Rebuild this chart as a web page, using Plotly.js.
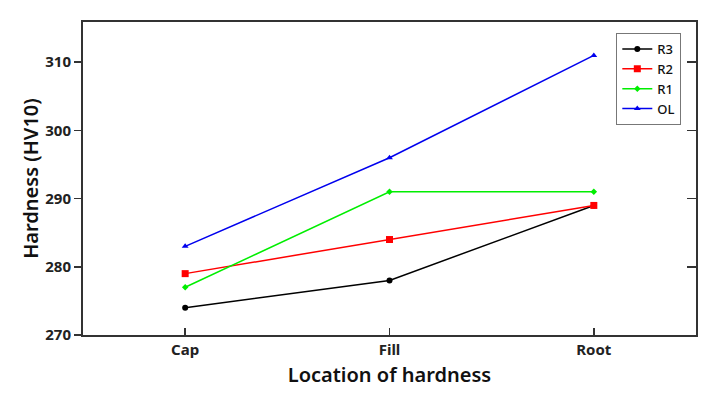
<!DOCTYPE html>
<html>
<head>
<meta charset="utf-8">
<script src="https://cdn.plot.ly/plotly-3.0.1.min.js"></script>
<style>html,body{margin:0;padding:0;background:#fff;}#chart{width:721px;height:399px;}</style>
</head>
<body>
<div id="chart"></div>
<script>
const categories = ["Cap", "Fill", "Root"];
const seriesNames = ["R3", "R2", "R1", "OL"];
const r3 = [274, 278, 289];
const r2 = [279, 284, 289];
const r1 = [277, 291, 291];
const ol = [283, 296, 311];
const yTicks = [270, 280, 290, 300, 310];

const xIdx = categories.map((c, i) => i);
const styles = [
  {color: "#000000", symbol: "circle", size: 6},
  {color: "#ff0000", symbol: "square", size: 7},
  {color: "#00ee00", symbol: "diamond", size: 5},
  {color: "#0000ee", symbol: "triangle-up", size: 6}
];
const vals = [r3, r2, r1, ol];
const traces = vals.map((v, i) => ({
  x: xIdx, y: v, name: seriesNames[i], type: "scatter", mode: "lines+markers",
  line: {color: styles[i].color, width: 1.5},
  marker: {color: styles[i].color, symbol: styles[i].symbol, size: styles[i].size}
}));
traces.push({x: xIdx, y: r3, yaxis: "y2", type: "scatter", mode: "markers",
  marker: {opacity: 0}, showlegend: false, hoverinfo: "skip"});

const layout = {
  width: 721, height: 399,
  margin: {l: 83, r: 25, t: 22, b: 64},
  paper_bgcolor: "#fff", plot_bgcolor: "#fff",
  showlegend: true,
  legend: {x: 0.87, y: 0.965, xanchor: "left", yanchor: "top",
    bordercolor: "#777", borderwidth: 1, bgcolor: "#fff",
    font: {family: "Noto Sans, sans-serif", size: 13, color: "#111", weight: 500},
    tracegroupgap: 0, itemwidth: 30},
  xaxis: {
    range: [-0.5, 2.5], tickmode: "array", tickvals: xIdx, ticktext: categories,
    ticks: "inside", ticklen: 7, tickwidth: 1.5, tickcolor: "#333",
    showline: true, linecolor: "#333", linewidth: 2, mirror: true,
    showgrid: false, zeroline: false,
    tickfont: {family: "Noto Sans, sans-serif", size: 15, color: "#222", weight: "bold"},
    title: {text: "Location of hardness", standoff: 10,
      font: {family: "Noto Sans, sans-serif", size: 20, color: "#111", weight: 600}}
  },
  yaxis: {
    range: [270, 315.9], tickmode: "array", tickvals: yTicks,
    ticks: "outside", ticklen: 7, tickwidth: 1.5, tickcolor: "#333",
    showline: true, linecolor: "#333", linewidth: 2, mirror: true,
    showgrid: false, zeroline: false,
    tickfont: {family: "Noto Sans, sans-serif", size: 15, color: "#222", weight: "bold"},
    title: {text: "Hardness (HV10)", standoff: 1,
      font: {family: "Noto Sans, sans-serif", size: 20, color: "#111", weight: 600}}
  },
  yaxis2: {
    overlaying: "y", side: "right", range: [270, 315.9], tickmode: "array", tickvals: yTicks,
    ticks: "inside", ticklen: 9, tickwidth: 1.5, tickcolor: "#333",
    showticklabels: false, showline: false, showgrid: false, zeroline: false
  }
};
Plotly.newPlot("chart", traces, layout, {displayModeBar: false, staticPlot: true});
</script>
</body>
</html>
